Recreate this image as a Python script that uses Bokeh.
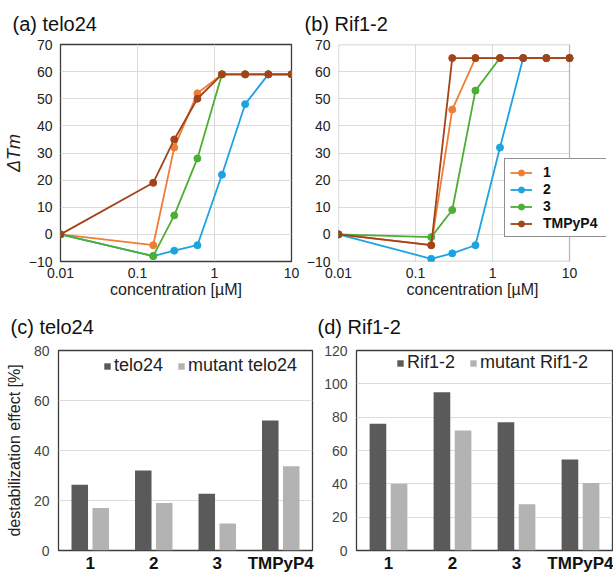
from bokeh.plotting import figure
from bokeh.layouts import column, row
from bokeh.models import (FixedTicker, CustomJSTickFormatter, Legend, LegendItem,
                          Range1d, FactorRange, ColumnDataSource, BoxAnnotation)
from bokeh.transform import dodge
from bokeh.embed import file_html
from bokeh.resources import INLINE

FONT = "Liberation Sans"

# ---- data ----
conc = [0.01, 0.16, 0.3, 0.6, 1.25, 2.5, 5, 10]
series_names = ["1", "2", "3", "TMPyP4"]
series_colors = ["#F07D35", "#1CA3E0", "#4DAE34", "#A3431A"]

telo24_1 = [0, -4, 32, 52, 59, 59, 59, 59]
telo24_2 = [0, -8, -6, -4, 22, 48, 59, 59]
telo24_3 = [0, -8, 7, 28, 59, 59, 59, 59]
telo24_T = [0, 19, 35, 50, 59, 59, 59, 59]

rif_1 = [0, -4, 46, 65, 65, 65, 65, 65]
rif_2 = [0, -9, -7, -4, 32, 65, 65, 65]
rif_3 = [0, -1, 9, 53, 65, 65, 65, 65]
rif_T = [0, -4, 65, 65, 65, 65, 65, 65]

x_ticks = [0.01, 0.1, 1, 10]
y_ticks_line = [-10, 0, 10, 20, 30, 40, 50, 60, 70]

compounds = ["1", "2", "3", "TMPyP4"]
c_telo24 = [26.3, 32, 22.7, 52]
c_mutant = [17, 19, 10.8, 33.7]
d_rif = [76, 95, 77, 54.6]
d_mutant = [40, 72, 27.7, 40.5]

DARK = "#5a5a5a"
LIGHT = "#b3b3b3"
GRID = "#dcdcdc"
FRAME = "#3c3c3c"


def base_style(p, title, title_offset, title_standoff):
    p.title.text = title
    p.title.text_font = FONT
    p.title.text_font_size = "20px"
    p.title.text_font_style = "normal"
    p.title.text_color = "#111111"
    p.title.offset = title_offset
    p.title.standoff = title_standoff
    p.outline_line_color = FRAME
    p.outline_line_width = 1.3
    for ax in p.axis:
        ax.axis_line_color = None
        ax.major_tick_out = 0
        ax.major_tick_in = 0
        ax.minor_tick_out = 0
        ax.minor_tick_in = 0
        ax.major_label_text_font = FONT
        ax.axis_label_text_font = FONT
        ax.axis_label_text_font_style = "normal"
        ax.axis_label_text_color = "#222222"


def line_panel(title, ys_list, width, mbl, mbr, title_offset, x_end,
               ylabel=None, legend=False):
    p = figure(width=width, height=300, x_axis_type="log",
               x_range=Range1d(0.01, x_end), y_range=Range1d(-10, 70),
               output_backend="svg", toolbar_location=None,
               min_border_left=mbl, min_border_right=mbr,
               min_border_top=43, min_border_bottom=39)
    base_style(p, title, title_offset, 20)
    p.xaxis.ticker = FixedTicker(ticks=x_ticks, minor_ticks=[])
    p.xaxis.formatter = CustomJSTickFormatter(code="return String(tick)")
    p.yaxis.ticker = FixedTicker(ticks=y_ticks_line, minor_ticks=[])
    p.xaxis.axis_label = "concentration [µM]"
    p.xaxis.axis_label_text_font_size = "16px"
    p.xaxis.axis_label_standoff = 0
    p.xaxis.major_label_standoff = 6
    p.yaxis.major_label_standoff = 8
    for ax in p.axis:
        ax.major_label_text_font_size = "14px"
        ax.major_label_text_color = "#222222"
    if ylabel:
        p.yaxis.axis_label = ylabel
        p.yaxis.axis_label_text_font_size = "18px"
        p.yaxis.axis_label_text_font_style = "italic"
        p.yaxis.axis_label_standoff = 2
    p.xgrid.grid_line_color = GRID
    p.ygrid.grid_line_color = GRID
    if x_end > 10:
        # frame is widened so the legend can stick out past the data box
        p.outline_line_color = None
        p.add_layout(BoxAnnotation(left=10, fill_color="white", fill_alpha=1.0,
                                   line_color=None, level="underlay"))
        p.add_layout(BoxAnnotation(left=0.01, right=10, bottom=-10, top=70,
                                   fill_alpha=0, line_color=FRAME,
                                   line_width=1.3))
    items = []
    for name, col, ys in zip(series_names, series_colors, ys_list):
        l = p.line(conc, ys, line_color=col, line_width=1.8)
        s = p.scatter(conc, ys, size=7, fill_color=col, line_color=col)
        items.append(LegendItem(label=name, renderers=[l, s]))
    if legend:
        lg = Legend(items=items, location=(166, 24), margin=0, padding=5,
                    spacing=1, glyph_width=22, glyph_height=15, label_height=15,
                    label_width=58, label_standoff=11, label_text_font=FONT,
                    label_text_font_size="14px", label_text_font_style="bold",
                    label_text_color="#111111",
                    border_line_color="#222222", border_line_width=1.5,
                    background_fill_color="white", background_fill_alpha=1.0)
        p.add_layout(lg)
    return p


def bar_panel(title, a, b, la, lb, ymax, yticks, width, mbl, mbr, mbt,
              title_offset, title_standoff, leg_loc, ylabel=None):
    p = figure(width=width, height=275, x_range=FactorRange(*compounds),
               y_range=Range1d(0, ymax), output_backend="svg",
               toolbar_location=None, min_border_left=mbl, min_border_right=mbr,
               min_border_top=mbt, min_border_bottom=25)
    base_style(p, title, title_offset, title_standoff)
    src = ColumnDataSource(dict(cat=compounds, a=a, b=b))
    r1 = p.vbar(x=dodge("cat", -0.165, range=p.x_range), top="a", width=0.26,
                source=src, fill_color=DARK, line_color=None)
    r2 = p.vbar(x=dodge("cat", 0.165, range=p.x_range), top="b", width=0.26,
                source=src, fill_color=LIGHT, line_color=None)
    p.yaxis.ticker = FixedTicker(ticks=yticks, minor_ticks=[])
    p.yaxis.major_label_text_font_size = "14px"
    p.yaxis.major_label_text_color = "#444444"
    p.yaxis.major_label_standoff = 9
    p.xaxis.major_label_text_font_size = "17px"
    p.xaxis.major_label_text_font_style = "bold"
    p.xaxis.major_label_text_color = "#111111"
    p.xaxis.major_label_standoff = 3
    p.xgrid.grid_line_color = None
    p.ygrid.grid_line_color = GRID
    if ylabel:
        p.yaxis.axis_label = ylabel
        p.yaxis.axis_label_text_font_size = "16px"
        p.yaxis.axis_label_standoff = 8
    lg = Legend(items=[LegendItem(label=la, renderers=[r1]),
                       LegendItem(label=lb, renderers=[r2])],
                orientation="horizontal", location=leg_loc, margin=0, padding=0,
                spacing=14, glyph_width=8, glyph_height=8, label_standoff=3,
                label_height=18, label_text_font=FONT, label_text_font_size="18px",
                label_text_color="#222222",
                border_line_color=None, background_fill_alpha=0)
    p.add_layout(lg)
    return p


pa = line_panel("(a) telo24", [telo24_1, telo24_2, telo24_3, telo24_T],
                300, 58, 9, -48, 10, ylabel="ΔTm")
pb = line_panel("(b) Rif1-2", [rif_1, rif_2, rif_3, rif_T],
                313, 38, 7, -34, 30.2, legend=True)
pc = bar_panel("(c) telo24", c_telo24, c_mutant, "telo24", "mutant telo24",
               80, [0, 20, 40, 60, 80], 318, 58, 6, 49, -48, 25, (45, 174),
               ylabel="destabilization effect [%]")
pd = bar_panel("(d) Rif1-2", d_rif, d_mutant, "Rif1-2", "mutant Rif1-2",
               120, [0, 20, 40, 60, 80, 100, 120], 295, 38, 1, 50, -39, 26,
               (40, 177))

layout = column(row(pa, pb), row(pc, pd))
open("out.html", "w").write(file_html(layout, INLINE))
